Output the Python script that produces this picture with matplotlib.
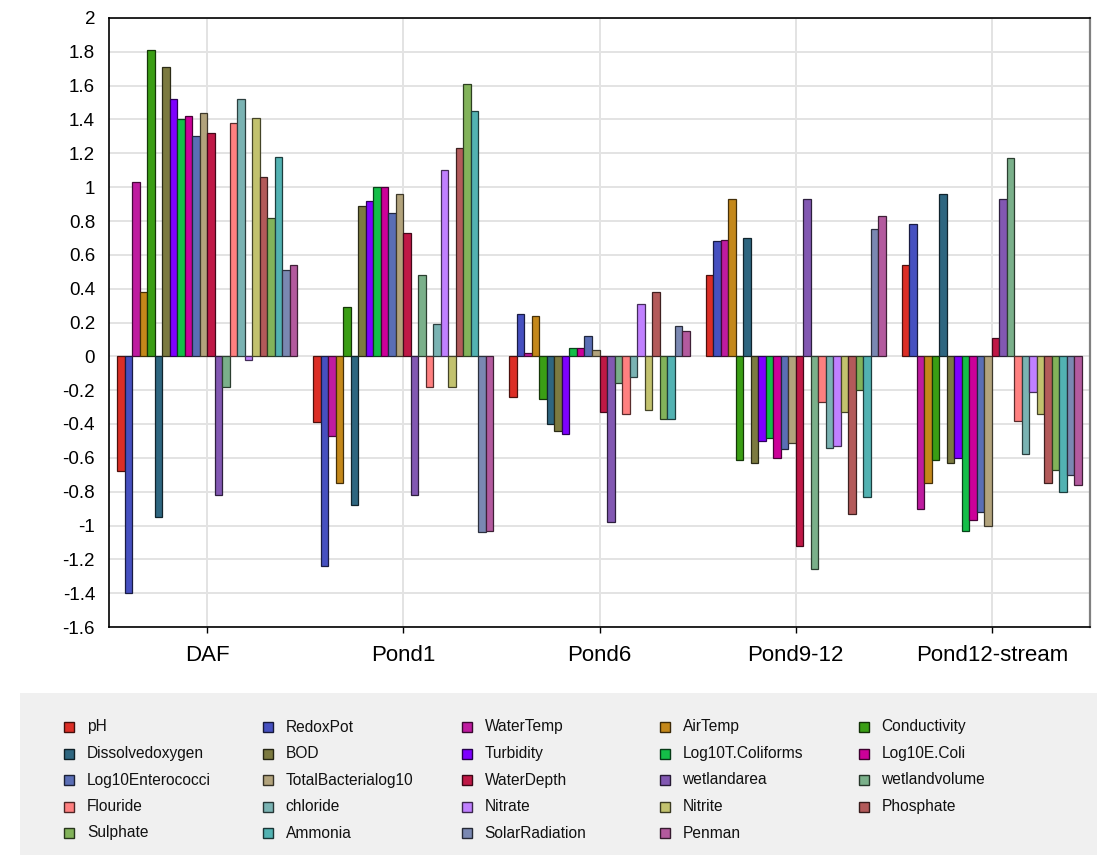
import numpy as np
import matplotlib
matplotlib.use("Agg")
import matplotlib.pyplot as plt
from matplotlib.patches import Rectangle
from matplotlib.colors import to_rgb

plt.rcParams['font.family'] = ['Liberation Sans', 'DejaVu Sans']
plt.rcParams['axes.unicode_minus'] = False

sites = ["DAF", "Pond1", "Pond6", "Pond9-12", "Pond12-stream"]

variables = ["pH", "RedoxPot", "WaterTemp", "AirTemp", "Conductivity",
             "Dissolvedoxygen", "BOD", "Turbidity", "Log10T.Coliforms", "Log10E.Coli",
             "Log10Enterococci", "TotalBacterialog10", "WaterDepth", "wetlandarea", "wetlandvolume",
             "Flouride", "chloride", "Nitrate", "Nitrite", "Phosphate",
             "Sulphate", "Ammonia", "SolarRadiation", "Penman"]

colors = ["#DC2E26", "#4650C0", "#BF1BA0", "#C4881A", "#3A9E14",
          "#2E6680", "#7C7A40", "#7F00FF", "#14BE48", "#CC0099",
          "#5A6EB5", "#B2A37C", "#BF1846", "#8258B2", "#7AB08A",
          "#FF8080", "#7AB3B3", "#C080FF", "#C2C26E", "#B35A5A",
          "#82B35A", "#52B2B2", "#7A88B2", "#B35A9E"]

# one list per site, in the order of `variables`
daf = [-0.68, -1.40, 1.03, 0.38, 1.81,
       -0.95, 1.71, 1.52, 1.40, 1.42,
       1.30, 1.44, 1.32, -0.82, -0.18,
       1.38, 1.52, -0.02, 1.41, 1.06,
       0.82, 1.18, 0.51, 0.54]
pond1 = [-0.39, -1.24, -0.47, -0.75, 0.29,
         -0.88, 0.89, 0.92, 1.00, 1.00,
         0.85, 0.96, 0.73, -0.82, 0.48,
         -0.18, 0.19, 1.10, -0.18, 1.23,
         1.61, 1.45, -1.04, -1.03]
pond6 = [-0.24, 0.25, 0.02, 0.24, -0.25,
         -0.40, -0.44, -0.46, 0.05, 0.05,
         0.12, 0.04, -0.33, -0.98, -0.16,
         -0.34, -0.12, 0.31, -0.32, 0.38,
         -0.37, -0.37, 0.18, 0.15]
pond9_12 = [0.48, 0.68, 0.69, 0.93, -0.61,
            0.70, -0.63, -0.50, -0.48, -0.60,
            -0.55, -0.51, -1.12, 0.93, -1.26,
            -0.27, -0.54, -0.53, -0.33, -0.93,
            -0.20, -0.83, 0.75, 0.83]
pond12_stream = [0.54, 0.78, -0.90, -0.75, -0.61,
                 0.96, -0.63, -0.60, -1.03, -0.97,
                 -0.92, -1.00, 0.11, 0.93, 1.17,
                 -0.38, -0.58, -0.21, -0.34, -0.75,
                 -0.67, -0.80, -0.70, -0.76]

values = np.array([daf, pond1, pond6, pond9_12, pond12_stream])  # sites x variables

W, H = 1114, 868
fig = plt.figure(figsize=(W / 100, H / 100), dpi=100)
fig.patch.set_facecolor("white")

ax = fig.add_axes([109 / W, 1 - 627 / H, (1090 - 109) / W, (627 - 18) / H])

n_var = len(variables)
group_w = 0.918
bw = group_w / n_var
x = np.arange(len(sites))


def darker(c, f=0.35):
    r, g, b = to_rgb(c)
    return (r * f, g * f, b * f)


for j, (name, c) in enumerate(zip(variables, colors)):
    offs = -group_w / 2 + bw * (j + 0.5)
    ax.bar(x + offs, values[:, j], width=bw, color=c,
           edgecolor=darker(c), linewidth=0.9, zorder=3)

ax.set_xlim(-0.5, len(sites) - 0.5)
ax.set_ylim(-1.6, 2.0)
yt = np.round(np.arange(-1.6, 2.0001, 0.2), 1) + 0.0
ax.set_yticks(yt)
ax.set_yticklabels([f"{abs(v):g}" if abs(v) < 1e-9 else f"{v:g}" for v in yt],
                   fontsize=13.5)
ax.set_xticks(x)
ax.set_xticklabels(sites, fontsize=16)

ax.grid(True, color="#e3e3e3", linewidth=1.4, zorder=0)
ax.set_axisbelow(True)

ax.tick_params(axis="y", length=0, pad=10)
ax.tick_params(axis="x", length=4, width=1, pad=9, direction="out")
for side in ("left", "top", "bottom"):
    ax.spines[side].set_color("black")
    ax.spines[side].set_linewidth(1.2)
ax.spines["right"].set_color("#808080")
ax.spines["right"].set_linewidth(1.6)

# legend panel
fig.add_artist(Rectangle((20 / W, 1 - 855 / H), (1097 - 20) / W, (855 - 693) / H,
                         transform=fig.transFigure, facecolor="#f0f0f0",
                         edgecolor="none", zorder=0))
col_x = [64, 262.5, 461.5, 659.5, 858.5]
row_y = [727, 753.5, 780, 806.5, 833]
sw = 10
for k, (name, c) in enumerate(zip(variables, colors)):
    r, cidx = divmod(k, 5)
    x0 = col_x[cidx]
    y0 = row_y[r]
    fig.add_artist(Rectangle((x0 / W, 1 - (y0 + sw / 2) / H), sw / W, sw / H,
                             transform=fig.transFigure, facecolor=c,
                             edgecolor=darker(c, 0.3), linewidth=1.0, zorder=2))
    fig.text((x0 + 23) / W, 1 - y0 / H, name, fontsize=11.2,
             va="center", ha="left", color="#111111")

fig.savefig("out.png", dpi=100)
